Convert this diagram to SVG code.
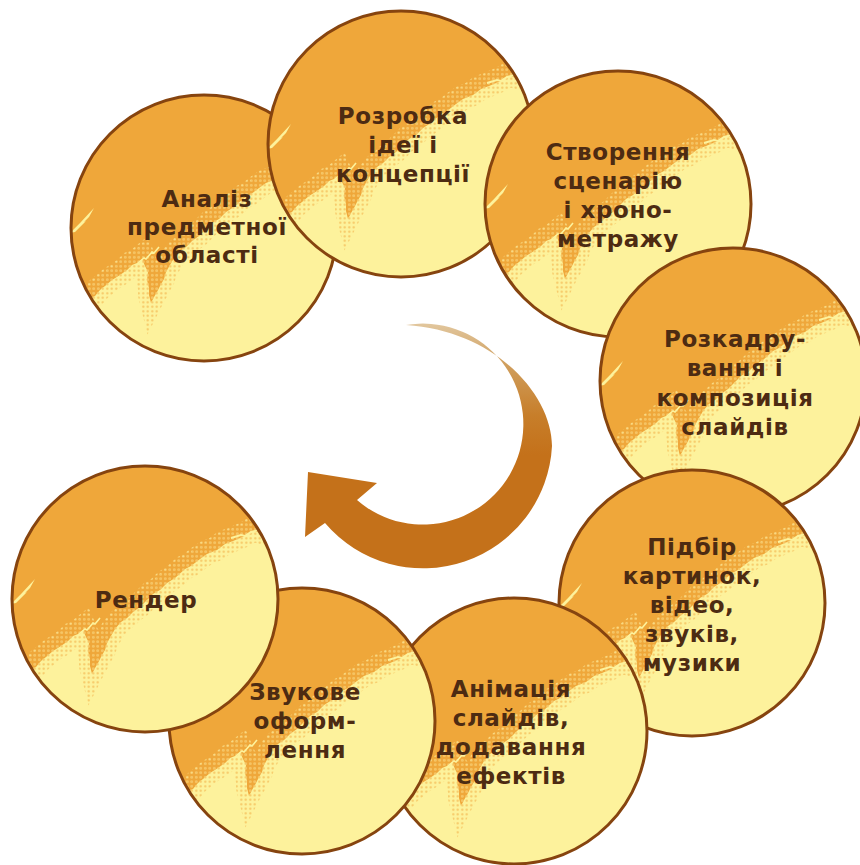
<svg xmlns="http://www.w3.org/2000/svg" xmlns:xlink="http://www.w3.org/1999/xlink" width="860" height="865" viewBox="0 0 860 865">
<defs>
<style>
.lbl{font-family:"DejaVu Sans","Liberation Sans",sans-serif;font-weight:bold;font-size:23px;fill:#4D2B12;text-anchor:middle;letter-spacing:0.6px}
.rim{fill:none;stroke:#86440F;stroke-width:3}
.bnd{fill:none}
</style>
<clipPath id="cc"><circle cx="0" cy="0" r="133"/></clipPath>
<pattern id="dl" patternUnits="userSpaceOnUse" width="4.5" height="4.5"><circle cx="2.25" cy="2.25" r="1.2" fill="#FCE898"/></pattern>
<pattern id="do" patternUnits="userSpaceOnUse" width="4.5" height="4.5"><circle cx="2.25" cy="2.25" r="1.1" fill="#F3B650"/></pattern>
<linearGradient id="ag" gradientUnits="userSpaceOnUse" x1="470" y1="322" x2="470" y2="455">
<stop offset="0" stop-color="#E2C8A0"/>
<stop offset="0.3" stop-color="#D0A060"/>
<stop offset="0.7" stop-color="#C77E2A"/>
<stop offset="1" stop-color="#C4711A"/>
</linearGradient>
<path id="bline" d="M 150,-78 L 128,-70 L 116,-66 L 108,-68 L 100,-63 L 88,-58 L 80,-55 L 72,-49 L 62,-45 L 55,-40 L 46,-33 L 40,-30 L 30,-21 L 22,-16 L 15,-9 L 8,-5 L 2,1 L -5,8 L -12,13 L -18,19 L -24,23 L -30,30 L -34,37 L -38,44 L -40,51 L -44,58 L -47,64 L -50,69 L -53,75 L -55,67 L -55,60 L -57,52 L -56,44 L -59,38 L -62,31 L -67,35 L -72,37 L -77,42 L -84,47 L -92,52 L -99,58 L -104,62 L -109,68 L -118,73 L -150,88"/>
<g id="disc">
<g clip-path="url(#cc)">
<rect x="-140" y="-140" width="280" height="280" fill="#EFA73A"/>
<use xlink:href="#bline" href="#bline" class="bnd" stroke="url(#dl)" stroke-width="28" opacity="0.9"/>
<path fill="#FDF29C" d="M 150,-78 L 128,-70 L 116,-66 L 108,-68 L 100,-63 L 88,-58 L 80,-55 L 72,-49 L 62,-45 L 55,-40 L 46,-33 L 40,-30 L 30,-21 L 22,-16 L 15,-9 L 8,-5 L 2,1 L -5,8 L -12,13 L -18,19 L -24,23 L -30,30 L -34,37 L -38,44 L -40,51 L -44,58 L -47,64 L -50,69 L -53,75 L -55,67 L -55,60 L -57,52 L -56,44 L -59,38 L -62,31 L -67,35 L -72,37 L -77,42 L -84,47 L -92,52 L -99,58 L -104,62 L -109,68 L -118,73 L -150,88 L -150,150 L 150,150 Z"/>
<use xlink:href="#bline" href="#bline" class="bnd" stroke="url(#do)" stroke-width="22" opacity="0.75"/>
<path fill="#FDF29C" d="M -134,5 L -122,-7 L -124,-5 L -110,-20 L -115,-11 L -120,-6 L -118,-7 L -129,4 Z"/>
<polyline points="-66,35 -60,30 -58,31 -52,24 -50,25 -45,19" fill="none" stroke="#FDF29C" stroke-width="1.6"/>
<polyline points="86,-61 96,-64 100,-63 106,-67 114,-69" fill="none" stroke="#FDF29C" stroke-width="2"/>
</g>
<circle cx="0" cy="0" r="133" class="rim"/>
</g>
</defs>

<g id="connectors">
<path id="cycle-arrow" fill="url(#ag)" d="M 406,325 A 100.5 100.5 0 1 1 357,500 L 377,483 L 308,472 L 305,537 L 325,523 A 129 129 0 0 0 552,446 C 552,396 497,331 406,325 Z"/>
</g>

<g id="node-1" transform="translate(204,228)">
<use xlink:href="#disc" href="#disc"/>
<text class="lbl"><tspan x="3" y="-21">Аналіз</tspan><tspan x="3" y="7">предметної</tspan><tspan x="3" y="35">області</tspan></text>
</g>
<g id="node-2" transform="translate(401,144)">
<use xlink:href="#disc" href="#disc"/>
<text class="lbl"><tspan x="2" y="-20">Розробка</tspan><tspan x="2" y="9">ідеї і</tspan><tspan x="2" y="38">концепції</tspan></text>
</g>
<g id="node-3" transform="translate(618,204)">
<use xlink:href="#disc" href="#disc"/>
<text class="lbl"><tspan x="0" y="-44">Створення</tspan><tspan x="0" y="-15">сценарію</tspan><tspan x="0" y="14">і хроно-</tspan><tspan x="0" y="43">метражу</tspan></text>
</g>
<g id="node-4" transform="translate(733,381)">
<use xlink:href="#disc" href="#disc"/>
<text class="lbl"><tspan x="2" y="-34">Розкадру-</tspan><tspan x="2" y="-5">вання і</tspan><tspan x="2" y="25">композиція</tspan><tspan x="2" y="54">слайдів</tspan></text>
</g>
<g id="node-5" transform="translate(692,603)">
<use xlink:href="#disc" href="#disc"/>
<text class="lbl"><tspan x="0" y="-48">Підбір</tspan><tspan x="0" y="-19">картинок,</tspan><tspan x="0" y="10">відео,</tspan><tspan x="0" y="39">звуків,</tspan><tspan x="0" y="68">музики</tspan></text>
</g>
<g id="node-6" transform="translate(514,731)">
<use xlink:href="#disc" href="#disc"/>
<text class="lbl"><tspan x="-3" y="-34">Анімація</tspan><tspan x="-3" y="-5">слайдів,</tspan><tspan x="-3" y="24">додавання</tspan><tspan x="-3" y="53">ефектів</tspan></text>
</g>
<g id="node-7" transform="translate(302,721)">
<use xlink:href="#disc" href="#disc"/>
<text class="lbl"><tspan x="3" y="-21">Звукове</tspan><tspan x="3" y="8">оформ-</tspan><tspan x="3" y="37">лення</tspan></text>
</g>
<g id="node-8" transform="translate(145,599)">
<use xlink:href="#disc" href="#disc"/>
<text class="lbl"><tspan x="1" y="9">Рендер</tspan></text>
</g>
</svg>
